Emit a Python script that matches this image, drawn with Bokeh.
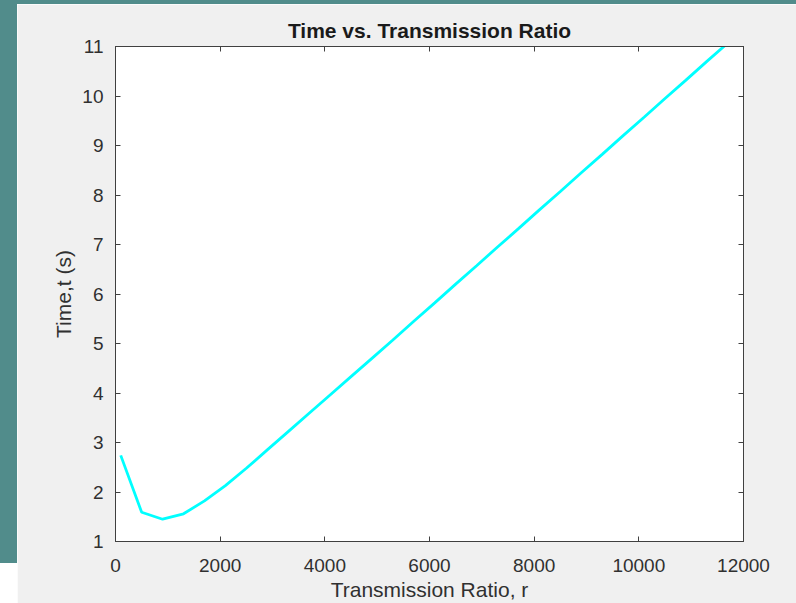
from bokeh.plotting import figure
from bokeh.models import LinearAxis, Spacer, FixedTicker, Range1d
from bokeh.layouts import column, row
from bokeh.embed import file_html
from bokeh.resources import INLINE

# data
ratio = [100, 500, 900, 1300, 1700, 2100, 2500, 2900, 3300, 3700,
         4100, 4500, 4900, 5300, 5700, 6100, 6500, 6900, 7300, 7700,
         8100, 8500, 8900, 9300, 9700, 10100, 10500, 10900, 11300, 11700]
time_s = [2.74, 1.59, 1.45, 1.56, 1.82, 2.13, 2.48, 2.85, 3.22, 3.59,
          3.96, 4.33, 4.70, 5.07, 5.45, 5.82, 6.20, 6.57, 6.95, 7.32,
          7.70, 8.07, 8.45, 8.82, 9.20, 9.57, 9.95, 10.32, 10.70, 11.07]
x_ticks = [0, 2000, 4000, 6000, 8000, 10000, 12000]
y_ticks = [1, 2, 3, 4, 5, 6, 7, 8, 9, 10, 11]

TEAL = "#518c8b"
GRAY = "#f0f0f0"
AXC = "#404040"
FONT = "Liberation Sans"

p = figure(frame_width=628, frame_height=495,
           min_border_left=98, min_border_right=53,
           min_border_top=42, min_border_bottom=62,
           x_range=Range1d(0, 12000), y_range=Range1d(1, 11),
           output_backend="svg", toolbar_location=None,
           x_axis_location="below", y_axis_location="left",
           title="Time vs. Transmission Ratio")
p.border_fill_color = GRAY
p.background_fill_color = "white"
p.outline_line_color = AXC
p.outline_line_width = 1
p.grid.visible = False

p.title.align = "center"
p.title.text_font = FONT
p.title.text_font_size = "21px"
p.title.text_font_style = "bold"
p.title.text_color = "#1a1a1a"
p.title.standoff = 10

p.line(ratio, time_s, line_color="#00ffff", line_width=2.8)

def style_axis(ax):
    ax.axis_line_color = AXC
    ax.major_tick_line_color = AXC
    ax.major_tick_in = 5
    ax.major_tick_out = 0
    ax.minor_tick_line_color = None
    ax.major_label_text_font = FONT
    ax.major_label_text_color = "#303030"
    ax.major_label_text_font_size = "19px"
    ax.axis_label_text_font = FONT
    ax.axis_label_text_color = "#303030"
    ax.axis_label_text_font_style = "normal"
    ax.axis_label_text_font_size = "21px"

xa = p.xaxis[0]
xa.ticker = FixedTicker(ticks=x_ticks)
xa.axis_label = "Transmission Ratio, r"
xa.major_label_standoff = 17
xa.axis_label_standoff = 3
style_axis(xa)

ya = p.yaxis[0]
ya.ticker = FixedTicker(ticks=y_ticks)
ya.axis_label = "Time,t (s)"
ya.major_label_standoff = 12
ya.axis_label_standoff = 4
style_axis(ya)

top = LinearAxis(ticker=FixedTicker(ticks=x_ticks),
                 major_label_overrides={v: "" for v in x_ticks})
style_axis(top)
p.add_layout(top, "above")
right = LinearAxis(ticker=FixedTicker(ticks=y_ticks),
                   major_label_overrides={v: "" for v in y_ticks})
style_axis(right)
p.add_layout(right, "right")

top_strip = Spacer(width=796, height=4, styles={"background-color": TEAL})
left_strip = Spacer(width=17, height=559, styles={"background-color": TEAL})
white_block = Spacer(width=17, height=40, styles={"background-color": "white"})

layout = column(top_strip, row(column(left_strip, white_block, spacing=0), p, spacing=0),
                spacing=0, margin=(0, 0, 0, 0))

open("out.html", "w").write(file_html(layout, INLINE))
